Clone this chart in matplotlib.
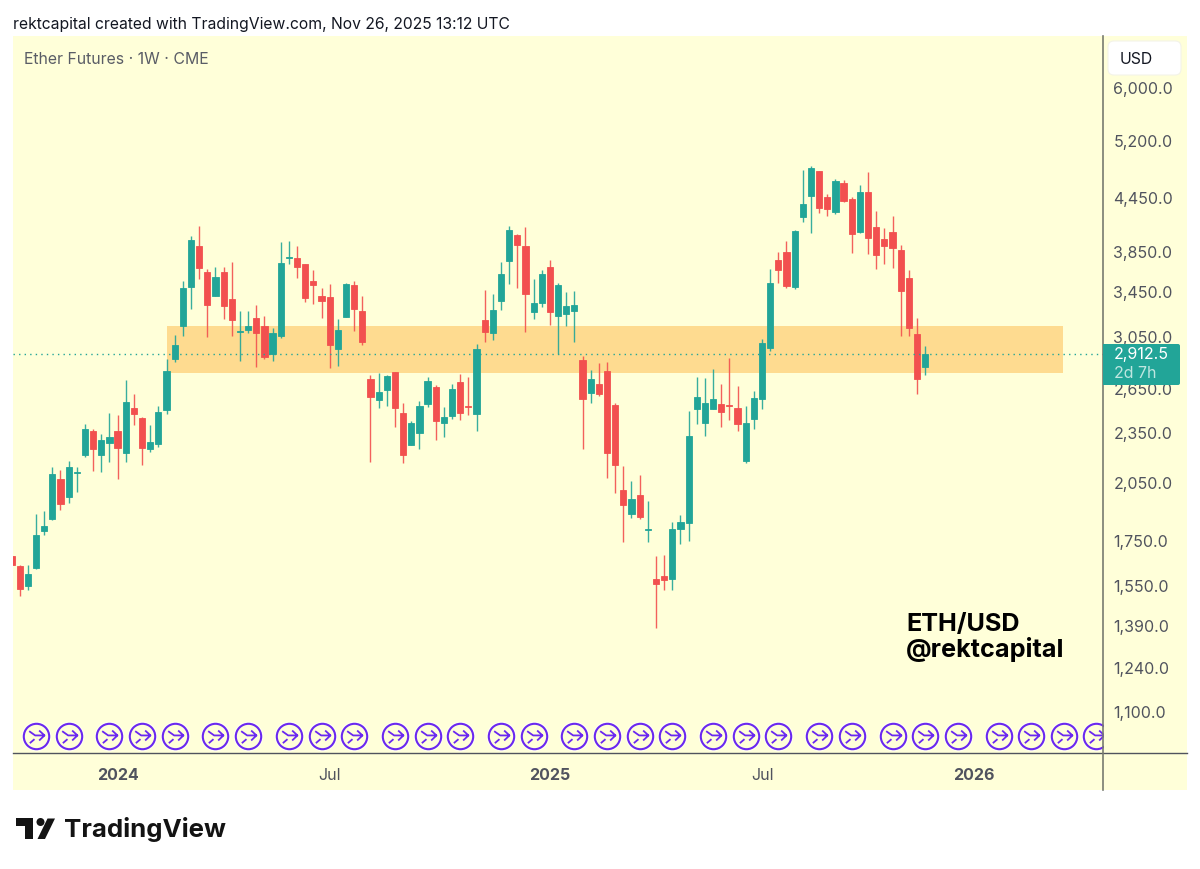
import numpy as np
import matplotlib
matplotlib.use("Agg")
import matplotlib.pyplot as plt
from matplotlib.patches import Rectangle, FancyBboxPatch, Polygon, Circle
from matplotlib.lines import Line2D
from matplotlib.path import Path
from matplotlib.transforms import Affine2D

plt.rcParams["font.family"] = ["Inter", "DejaVu Sans"]

# weekly candles, first one is cut off by the left edge
opens = [1682, 1638, 1551, 1626, 1802, 1859, 2071, 1974, 2109, 2213, 2364, 2212, 2288, 2360, 2223, 2515, 2451, 2247, 2280, 2499,
         2872, 3142, 3494, 3906, 3643, 3412, 3637, 3380, 3092, 3114, 3217, 3142, 2912, 3064, 3787, 3787, 3719, 3557, 3412, 3399,
         2954, 3222, 3513, 3276, 2722, 2569, 2640, 2773, 2481, 2272, 2348, 2544, 2662, 2414, 2462, 2703, 2530, 2472, 3199, 3081,
         3365, 3756, 4028, 3906, 3267, 3350, 3689, 3231, 3249, 3273, 2870, 2617, 2683, 2783, 2535, 2012, 1885, 1986, 1806, 1579,
         1594, 1581, 1810, 1841, 2510, 2416, 2510, 2540, 2535, 2517, 2176, 2440, 2578, 2960, 3759, 3850, 3497, 4230, 4474, 4789,
         4462, 4285, 4639, 4446, 4056, 4524, 4113, 3983, 4066, 3864, 3583, 3078, 2813]
highs = [1682, 1640, 1641, 1883, 1900, 2143, 2124, 2176, 2142, 2407, 2379, 2343, 2483, 2467, 2717, 2610, 2455, 2399, 2528, 2872,
         3066, 3551, 4021, 4124, 3676, 3689, 3689, 3739, 3279, 3279, 3329, 3229, 3123, 3948, 3962, 3906, 3726, 3657, 3491, 3525,
         3208, 3538, 3551, 3415, 2755, 2770, 2755, 2778, 2553, 2428, 2567, 2737, 2681, 2519, 2686, 2763, 2737, 2998, 3472, 3434,
         3742, 4124, 4035, 4113, 3577, 3657, 3759, 3532, 3453, 3459, 2896, 2788, 2843, 2849, 2553, 2146, 2063, 2096, 1955, 1682,
         1686, 1843, 1880, 2492, 2737, 2727, 2798, 2686, 2880, 2674, 2528, 2638, 3038, 3669, 3850, 3962, 4080, 4802, 4864, 4793,
         4504, 4694, 4672, 4462, 4610, 4776, 4296, 4110, 4246, 3924, 3657, 3213, 2981]
lows = [1641, 1509, 1533, 1623, 1782, 1854, 1905, 1945, 1999, 2202, 2119, 2115, 2172, 2071, 2172, 2403, 2153, 2233, 2263, 2476,
        2854, 3058, 3297, 3573, 3052, 3412, 3208, 3058, 2856, 3081, 2816, 2872, 2856, 3043, 3719, 3580, 3356, 3338, 3213, 2801,
        2821, 3222, 3100, 2986, 2169, 2513, 2530, 2388, 2163, 2272, 2247, 2523, 2306, 2323, 2440, 2433, 2469, 2362, 3010, 3027,
        3282, 3529, 3484, 3094, 3208, 3311, 3157, 2912, 3140, 3014, 2253, 2547, 2598, 2077, 1997, 1748, 1866, 1861, 1748, 1383,
        1534, 1532, 1739, 1751, 2409, 2332, 2506, 2388, 2435, 2362, 2166, 2373, 2510, 2934, 3534, 3491, 3478, 4169, 4050, 4277,
        4241, 4265, 4405, 3833, 4050, 3829, 3672, 3722, 3679, 3064, 3058, 2614, 2755]
closes = [1641, 1537, 1603, 1780, 1825, 2101, 1938, 2142, 2113, 2377, 2247, 2308, 2325, 2255, 2557, 2474, 2259, 2296, 2489, 2783,
          2984, 3482, 3969, 3686, 3326, 3590, 3320, 3199, 3100, 3142, 3081, 2888, 3089, 3736, 3798, 3692, 3393, 3519, 3362, 2984,
          3109, 3522, 3294, 3008, 2590, 2624, 2742, 2513, 2214, 2416, 2530, 2710, 2427, 2453, 2648, 2483, 2523, 2957, 3092, 3288,
          3623, 4080, 3916, 3431, 3344, 3623, 3264, 3513, 3318, 3329, 2578, 2722, 2612, 2223, 2153, 1930, 1964, 1868, 1810, 1559,
          1575, 1810, 1846, 2330, 2590, 2553, 2576, 2485, 2530, 2407, 2416, 2584, 3006, 3538, 3659, 3510, 4072, 4382, 4829, 4340,
          4323, 4668, 4421, 4041, 4532, 3990, 3815, 3909, 3888, 3456, 3128, 2722, 2912.5]
first_week = -1

price_ticks = [6000, 5200, 4450, 3850, 3450, 3050, 2650, 2350, 2050, 1750, 1550, 1390, 1240, 1100]
time_ticks = [12, 38, 65, 91, 117]
time_labels = ["2024", "Jul", "2025", "Jul", "2026"]

zone_low = 2770
zone_high = 3142
zone_start = 18.06
zone_end = 127.85

# weeks with an event marker along the bottom
event_weeks = [2, 6, 11, 15, 19, 24, 28, 33, 37, 41, 46, 50, 54, 59, 63, 68, 72, 76, 80, 85, 89, 93, 98, 102, 107, 111, 115,
               120, 124, 128, 132]

RED = "#F2504F"
GREEN = "#22A598"
BG = "#FFFFD9"
PURPLE = "#6A28F0"
AXIS = "#50535E"

W, H = 1200, 869
fig = plt.figure(figsize=(W / 100, H / 100), dpi=100, facecolor="white")
# top left pixel coordinates for everything outside the chart
pix = Affine2D().scale(1, -1).translate(0, H)

fig.add_artist(Rectangle((13, 36), 1174, 754, transform=pix, facecolor=BG, edgecolor="none", zorder=-1))

ax = fig.add_axes([13 / W, 1 - 753 / H, 1090 / W, 717 / H], facecolor="none")
ax.set_yscale("log")
ax.set_ylim(984, 6921)
ax.set_xlim(-0.82, 132.8)
for s in ax.spines.values():
    s.set_visible(False)

ax.fill_between([zone_start, zone_end], zone_low, zone_high, color="#FEDB90", lw=0, zorder=1)

weeks = np.arange(len(opens)) + first_week
o, h, l, c = np.array(opens), np.array(highs), np.array(lows), np.array(closes)
colors = [GREEN if a >= b else RED for a, b in zip(c, o)]
ax.vlines(weeks, l, h, colors=colors, lw=1.0, alpha=0.9, zorder=2)
ax.bar(weeks, np.abs(c - o), bottom=np.minimum(o, c), width=0.76, color=colors, edgecolor=colors, lw=0.6, zorder=3)

ax.axhline(closes[-1], color=GREEN, lw=1.0, ls=(0, (1, 3)), zorder=4)

# event markers: halo, ring and arrow glyph
arrow = Path(
    [(-0.55, 0.4), (-0.1, 0.08), (0.6, 0.08), (0.2, 0.45), (0.6, 0.08), (0.2, -0.3), (-0.5, -0.5), (-0.15, -0.2)],
    [Path.MOVETO, Path.LINETO, Path.LINETO, Path.MOVETO, Path.LINETO, Path.LINETO, Path.MOVETO, Path.LINETO],
)
event_y = [ax.get_ylim()[0] * 1.0471] * len(event_weeks)
ax.plot(event_weeks, event_y, ls="none", marker="o", ms=19.8, mfc="none", mec="#FFFFF0", mew=1.6, zorder=5)
ax.plot(event_weeks, event_y, ls="none", marker="o", ms=18.3, mfc="none", mec=PURPLE, mew=1.5, zorder=6)
ax.plot(event_weeks, event_y, ls="none", marker=arrow, ms=11.5, mfc="none", mec=PURPLE, mew=1.3, zorder=6)

ax.yaxis.tick_right()
ax.set_yticks(price_ticks)
ax.set_yticklabels([f"{p:,.1f}" for p in price_ticks])
ax.minorticks_off()
ax.tick_params(axis="y", length=0, pad=7.5, labelsize=11.5, labelcolor=AXIS)
ax.set_xticks(time_ticks)
ax.set_xticklabels(time_labels)
ax.tick_params(axis="x", length=0, pad=10.5, labelsize=11.5, labelcolor=AXIS)
for lab in ax.get_xticklabels():
    if lab.get_text() != "Jul":
        lab.set_fontweight("bold")

# separators of the price and time scales
fig.add_artist(Line2D([1103, 1103], [36, 790], transform=pix, color="#787B70", lw=1.2, zorder=4))
fig.add_artist(Line2D([13, 1187], [753, 753], transform=pix, color=AXIS, lw=1.0, zorder=3))

fig.text(13, 24, "rektcapital created with TradingView.com, Nov 26, 2025 13:12 UTC", transform=pix, fontsize=11.3,
         color="#131722", va="center")
fig.text(24, 60, "Ether Futures \u00b7 1W \u00b7 CME", transform=pix, fontsize=11.4, color="#5A5D66", va="center")

fig.add_artist(FancyBboxPatch((1112, 45), 65, 26, boxstyle="round,pad=4,rounding_size=6", transform=pix,
                              facecolor="white", edgecolor="#F3F3E8", lw=0.8, zorder=5))
fig.text(1120, 59, "USD", transform=pix, fontsize=11.4, color="#131722", va="center", zorder=6)

# last price tag
fig.add_artist(FancyBboxPatch((1105, 346), 73, 37, boxstyle="round,pad=2,rounding_size=2", transform=pix,
                              facecolor=GREEN, edgecolor="none", zorder=5))
fig.add_artist(Rectangle((1103, 344), 6, 41, transform=pix, facecolor=GREEN, edgecolor="none", zorder=5))
fig.text(1114, 355, f"{closes[-1]:,.1f}", transform=pix, fontsize=11.5, color="white", va="center", zorder=6)
fig.text(1114, 374, "2d 7h", transform=pix, fontsize=11.5, color="#BFE6E0", va="center", zorder=6)

fig.text(906, 624.5, "ETH/USD", transform=pix, fontsize=18.2, fontweight="bold", color="black", va="center")
fig.text(906, 650, "@rektcapital", transform=pix, fontsize=18.2, fontweight="bold", color="black", va="center")

# TradingView logo
LOGO = "#131313"
fig.add_artist(Polygon([(16, 818), (33, 818), (33, 839), (25, 839), (25, 826), (16, 826)], transform=pix, facecolor=LOGO, edgecolor="none"))
fig.add_artist(Circle((40.5, 822), 4, transform=pix, facecolor=LOGO, edgecolor="none"))
fig.add_artist(Polygon([(47.5, 818.5), (55, 818.5), (45, 839), (37.5, 839)], transform=pix, facecolor=LOGO, edgecolor="none"))
fig.text(64, 830, "TradingView", transform=pix, fontsize=18.6, fontweight="bold", color=LOGO, va="center")

fig.savefig("out.png", dpi=100)
plt.close(fig)
